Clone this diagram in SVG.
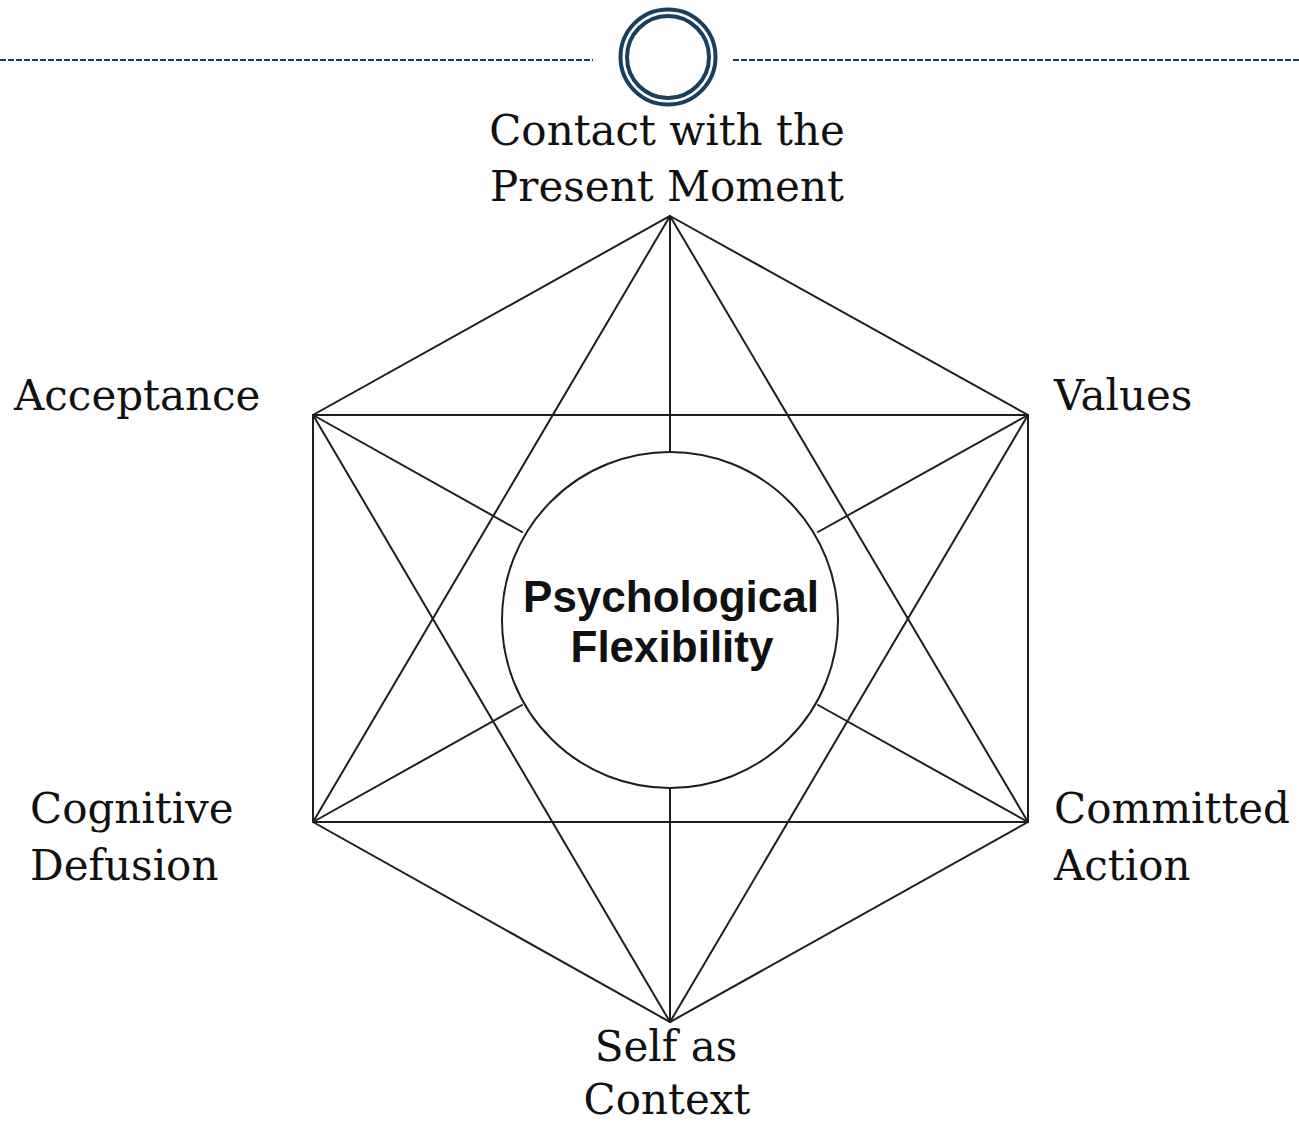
<svg xmlns="http://www.w3.org/2000/svg" width="1299" height="1126" viewBox="0 0 1299 1126">
  <style>
    .edge { stroke: #1e1e1e; stroke-width: 2; fill: none; stroke-linecap: round; }
    .label { font-family: "DejaVu Serif", "Liberation Serif", serif; font-size: 42px; fill: #111; }
    .core { font-family: "Liberation Sans", Arial, sans-serif; font-weight: bold; font-size: 44px; fill: #111; text-anchor: middle; }
    .deco { stroke: #17405e; fill: none; }
  </style>
  <rect width="1299" height="1126" fill="#ffffff"/>

  <!-- header rule with double ring -->
  <g id="header">
    <line class="deco" x1="0" y1="60" x2="593" y2="60" stroke-width="2" stroke-dasharray="6 2"/>
    <line class="deco" x1="733" y1="60" x2="1299" y2="60" stroke-width="2" stroke-dasharray="6 2"/>
    <circle class="deco" cx="668" cy="57" r="47.5" stroke-width="4"/>
    <circle class="deco" cx="668" cy="57" r="41" stroke-width="4"/>
  </g>

  <!-- connectors: hexagon, rectangle, triangles and spokes -->
  <g id="connectors">
    <!-- hexagon outline -->
    <polygon class="edge" points="670,216 1028,415 1028,822 670,1022 313,822 313,415"/>
    <!-- rectangle horizontals -->
    <line class="edge" x1="313" y1="415" x2="1028" y2="415"/>
    <line class="edge" x1="313" y1="822" x2="1028" y2="822"/>
    <!-- upward triangle -->
    <line class="edge" x1="670" y1="216" x2="313" y2="822"/>
    <line class="edge" x1="670" y1="216" x2="1028" y2="822"/>
    <!-- downward triangle -->
    <line class="edge" x1="670" y1="1022" x2="313" y2="415"/>
    <line class="edge" x1="670" y1="1022" x2="1028" y2="415"/>
    <!-- spokes to the centre circle -->
    <line class="edge" x1="670" y1="216" x2="670" y2="452"/>
    <line class="edge" x1="670" y1="788" x2="670" y2="1022"/>
    <line class="edge" x1="313" y1="415" x2="522" y2="532"/>
    <line class="edge" x1="1028" y1="415" x2="818" y2="532"/>
    <line class="edge" x1="313" y1="822" x2="522" y2="705"/>
    <line class="edge" x1="1028" y1="822" x2="818" y2="705"/>
  </g>

  <g id="node-center">
    <circle cx="670" cy="620" r="168" fill="#ffffff" stroke="#1e1e1e" stroke-width="2"/>
    <text class="core" x="671" y="612">Psychological</text>
    <text class="core" x="672" y="662">Flexibility</text>
  </g>

  <g id="node-present">
    <text class="label" x="667" y="145" text-anchor="middle">Contact with the</text>
    <text class="label" x="667" y="201" text-anchor="middle">Present Moment</text>
  </g>

  <g id="node-acceptance">
    <text class="label" x="14" y="410">Acceptance</text>
  </g>

  <g id="node-values">
    <text class="label" x="1054" y="410">Values</text>
  </g>

  <g id="node-defusion">
    <text class="label" x="30" y="823">Cognitive</text>
    <text class="label" x="30" y="880">Defusion</text>
  </g>

  <g id="node-committed">
    <text class="label" x="1054" y="823">Committed</text>
    <text class="label" x="1054" y="880">Action</text>
  </g>

  <g id="node-self">
    <text class="label" x="666" y="1061" text-anchor="middle">Self as</text>
    <text class="label" x="667" y="1114" text-anchor="middle">Context</text>
  </g>
</svg>
